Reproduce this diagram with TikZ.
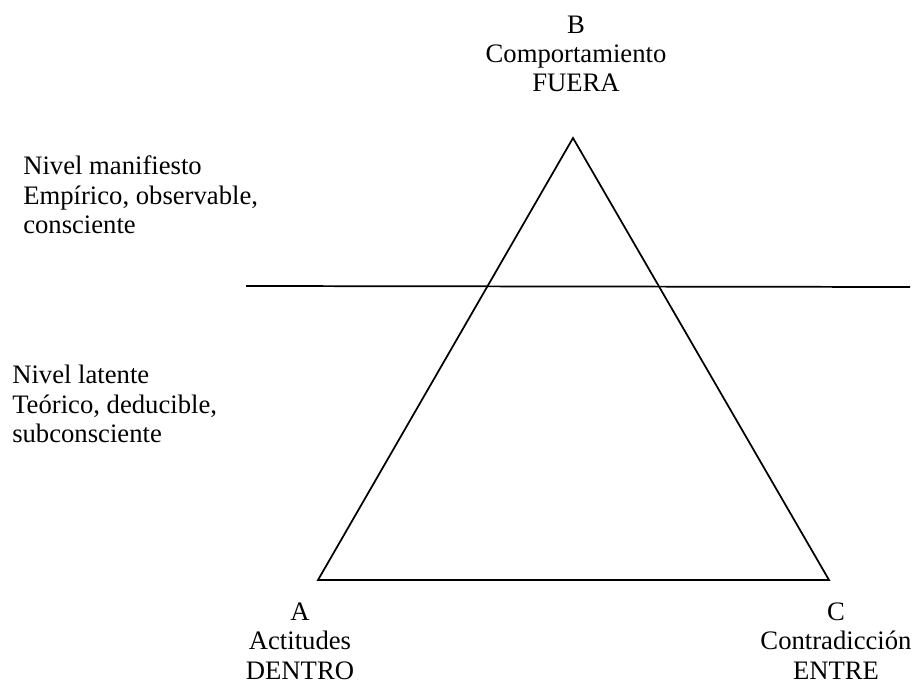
\documentclass[tikz,border=0pt]{standalone}
\usepackage{fontspec}
\setmainfont{Liberation Serif}
\usepackage{tikz}
\usetikzlibrary{positioning}

\begin{document}
\begin{tikzpicture}[
    x=0.75pt, y=-0.75pt,
    font=\fontsize{20}{22}\selectfont,
    corner/.style={
		align=center,
		inner sep=0pt
	},
	level/.style={
		align=left,
		anchor=west,
		inner sep=0pt
	},
	edge/.style={
		line width=1.3pt,
		line join=miter
	}
  ]
  \useasboundingbox (0,0) rectangle (913,684);

    % We start by placing the vertices
  \coordinate (vB) at (573,138);
  \coordinate (vA) at (318,580);
  \coordinate (vC) at (829,580);
  \coordinate (lineL) at (246,286);
  \coordinate (lineR) at (910,287);

  \node [corner] (labelB) at (576,54) {B\\Comportamiento\\FUERA};
  \node [corner] (labelA) at (300,641) {A\\Actitudes\\DENTRO};
  \node [corner] (labelC) at (836,641) {C\\Contradicción\\ENTRE};

  \node [level] (manifest) at (23,195)
 {Nivel manifiesto\\Empírico, observable,\\consciente};
  \node [level] (latent) at (12,404)
 {Nivel latente\\Teórico, deducible,\\subconsciente};

 \draw [edge] (vA) -- (vB) -- (vC) -- cycle;
 \draw [edge] (lineL) -- (lineR);

\end{tikzpicture}
\end{document}
